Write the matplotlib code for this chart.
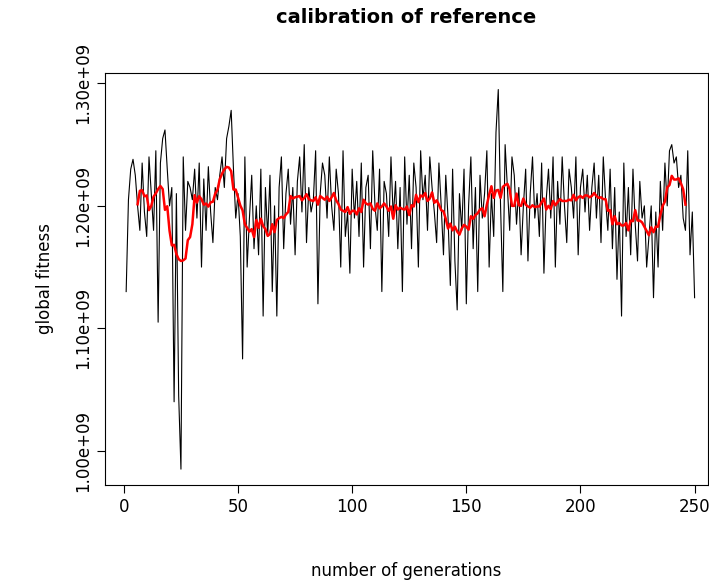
import numpy as np
import pandas as pd
import matplotlib
matplotlib.use('Agg')
import matplotlib.pyplot as plt
from matplotlib.ticker import FuncFormatter

# global fitness per generation, in millions
fitness = [
    1130, 1205, 1230, 1238, 1225, 1200, 1180, 1235, 1195, 1175,
    1240, 1210, 1180, 1245, 1105, 1235, 1255, 1262, 1230, 1200,
    1215, 1040, 1210, 1045, 985, 1240, 1180, 1220, 1215, 1205,
    1230, 1190, 1235, 1150, 1222, 1180, 1232, 1195, 1170, 1215,
    1205, 1225, 1240, 1215, 1255, 1265, 1278, 1230, 1190, 1210,
    1175, 1075, 1240, 1150, 1190, 1225, 1165, 1200, 1160, 1230,
    1110, 1215, 1175, 1225, 1130, 1200, 1110, 1215, 1240, 1165,
    1210, 1230, 1185, 1215, 1160, 1220, 1240, 1195, 1250, 1170,
    1215, 1195, 1205, 1245, 1120, 1210, 1235, 1225, 1190, 1240,
    1200, 1180, 1230, 1210, 1150, 1245, 1175, 1195, 1145, 1230,
    1190, 1220, 1175, 1235, 1150, 1215, 1225, 1165, 1245, 1200,
    1180, 1230, 1130, 1220, 1210, 1175, 1240, 1190, 1220, 1165,
    1215, 1130, 1240, 1185, 1225, 1165, 1235, 1215, 1150, 1245,
    1205, 1225, 1180, 1240, 1215, 1195, 1170, 1235, 1200, 1160,
    1225, 1190, 1135, 1230, 1155, 1115, 1210, 1180, 1230, 1120,
    1200, 1240, 1165, 1215, 1130, 1225, 1190, 1210, 1245, 1150,
    1210, 1175, 1260, 1295, 1200, 1130, 1250, 1215, 1180, 1240,
    1225, 1185, 1215, 1160, 1200, 1230, 1155, 1210, 1240, 1190,
    1210, 1175, 1235, 1145, 1205, 1230, 1190, 1240, 1150, 1220,
    1185, 1240, 1200, 1170, 1230, 1215, 1190, 1240, 1160, 1215,
    1230, 1195, 1225, 1180, 1215, 1235, 1190, 1225, 1170, 1240,
    1205, 1180, 1230, 1165, 1215, 1140, 1195, 1110, 1235, 1175,
    1215, 1160, 1230, 1185, 1155, 1220, 1190, 1200, 1150, 1175,
    1200, 1125, 1195, 1150, 1220, 1180, 1235, 1200, 1245, 1250,
    1235, 1240, 1215, 1225, 1190, 1180, 1245, 1160, 1195, 1125,
]

gens = np.arange(1, len(fitness) + 1)
vals = np.array(fitness) * 1e6
smooth = pd.Series(vals).rolling(10, center=True).mean()

fig = plt.figure(figsize=(7.09, 5.83), dpi=100)
ax = fig.add_axes([0.148, 0.168, 0.851, 0.707])
ax.plot(gens, vals, color='black', lw=0.8)
ax.plot(gens, smooth, color='red', lw=1.8)

ax.set_xlim(-8.3, 256)
ax.set_ylim(0.972e9, 1.3086e9)
ax.set_xticks([0, 50, 100, 150, 200, 250])
ax.set_yticks([1.0e9, 1.1e9, 1.2e9, 1.3e9])
ax.yaxis.set_major_formatter(FuncFormatter(lambda v, p: '%.2fe+09' % (v / 1e9)))
for lab in ax.get_yticklabels():
    lab.set_rotation(90)
    lab.set_va('center')
ax.tick_params(direction='out', length=6, labelsize=12)
ax.set_title('calibration of reference', fontweight='bold', fontsize=14, pad=36)
ax.set_xlabel('number of generations', fontsize=12, labelpad=33)
ax.set_ylabel('global fitness', fontsize=12, labelpad=14)

fig.savefig('out.png', dpi=100)
